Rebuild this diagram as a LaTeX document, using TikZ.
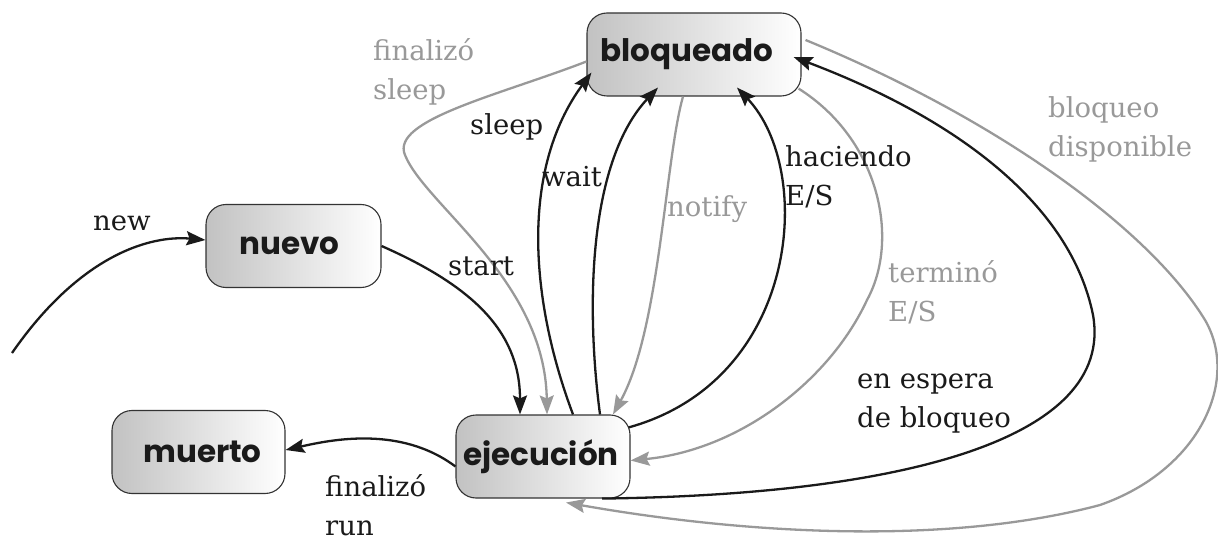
\documentclass[tikz,border=0pt]{standalone}
\usepackage{fontspec}
\usetikzlibrary{arrows.meta}
\newfontfamily\labfont{DejaVu Serif}
\newfontfamily\nodfont{Poppins}
\definecolor{ink}{HTML}{1A1A1A}
\definecolor{lgray}{HTML}{999999}
\begin{document}
\begin{tikzpicture}[x=1pt,y=-1pt,
  state/.style={draw=black!80, line width=1.1pt, rounded corners=20pt,
    left color=black!24, right color=white, minimum height=83pt, inner sep=0pt,
    font=\nodfont\bfseries\fontsize{31}{31}\selectfont, text=ink},
  blk/.style={line width=2.3pt, draw=ink, -{Stealth[length=19pt,width=14pt,inset=3pt]}},
  gry/.style={line width=2.3pt, draw=lgray, -{Stealth[length=19pt,width=14pt,inset=3pt]}},
  lbl/.style={font=\labfont\fontsize{27.5}{39}\selectfont, align=left, inner sep=0pt, anchor=base west, text=ink},
  glbl/.style={lbl, text=lgray}]
\useasboundingbox (0,0) rectangle (1218,540);

\node[state, minimum width=214pt] (bloq) at (694,54.5) {bloqueado\hspace*{14pt}};
\node[state, minimum width=174pt] (ejec) at (543,456.5) {ejecución\hspace*{4pt}};
\node[state, minimum width=173pt] (muer) at (198.5,452) {\hspace*{8pt}muerto};
\node[state, minimum width=175pt] (nuev) at (293.5,246) {nuevo\hspace*{8pt}};

\coordinate (s0) at (12,353);

% new
\draw[blk] (s0) .. controls (80,255) and (150,235) .. ([yshift=6pt]nuev.west);
% start
\draw[blk] (nuev.east) .. controls (470,285) and (520,330) .. ([xshift=-23pt]ejec.north);
% finalizo sleep
\draw[gry] ([yshift=-7pt]bloq.west) .. controls (500,95) and (390,120) .. (405,155)
  .. controls (425,205) and (545,280) .. ([xshift=4pt]ejec.north);
% sleep
\draw[blk] ([xshift=30pt]ejec.north) .. controls (530,300) and (520,170) .. ([shift={(5pt,24pt)}]bloq.south west);
% wait
\draw[blk] ([xshift=57pt]ejec.north) .. controls (585,300) and (590,160) .. ([shift={(-36pt,9pt)}]bloq.south);
% notify
\draw[gry] ([xshift=-11pt]bloq.south) .. controls (665,160) and (660,330) .. ([xshift=70pt]ejec.north);
% haciendo E/S
\draw[blk] ([shift={(-2pt,-13pt)}]ejec.north east) .. controls (800,380) and (815,170) .. ([shift={(43pt,9pt)}]bloq.south);
% termino E/S
\draw[gry] ([shift={(-3pt,8pt)}]bloq.south east) .. controls (880,140) and (900,240) .. (867,300)
  .. controls (830,380) and (740,450) .. ([yshift=-4pt]ejec.east);
% en espera de bloqueo
\draw[blk] ([xshift=59pt]ejec.south) .. controls (900,495) and (1115,440) .. (1093,315)
  .. controls (1071,206) and (960,120) .. ([shift={(-8pt,-2.5pt)}]bloq.east);
% bloqueo disponible
\draw[gry] ([shift={(4pt,14.5pt)}]bloq.east) .. controls (1000,120) and (1150,230) .. (1205,320)
  .. controls (1240,380) and (1200,470) .. (1100,505)
  .. controls (950,545) and (750,535) .. ([shift={(23pt,-4pt)}]ejec.south);
% finalizo run
\draw[blk] ([yshift=-10pt]ejec.west) .. controls (400,425) and (330,440) .. ([yshift=2pt]muer.east);

% labels (multi-line: position is baseline of last line)
\node[lbl] (lnew) at (93,230) {new};
\node[lbl] (lstart) at (448,275) {start};
\node[glbl] (lfs) at (373,100) {finalizó\\sleep};
\node[lbl] (lsleep) at (470,135) {sleep};
\node[lbl] (lwait) at (542,187) {wait};
\node[glbl] (lnotify) at (667,217) {notify};
\node[lbl] (lhac) at (785,206) {haciendo\\E/S};
\node[glbl] (lterm) at (888,321) {terminó\\E/S};
\node[glbl] (lbd) at (1048,157) {bloqueo\\disponible};
\node[lbl] (lesp) at (857,427) {en espera\\de bloqueo};
\node[lbl] (lfr) at (325,535) {finalizó\\run};
\end{tikzpicture}
\end{document}
